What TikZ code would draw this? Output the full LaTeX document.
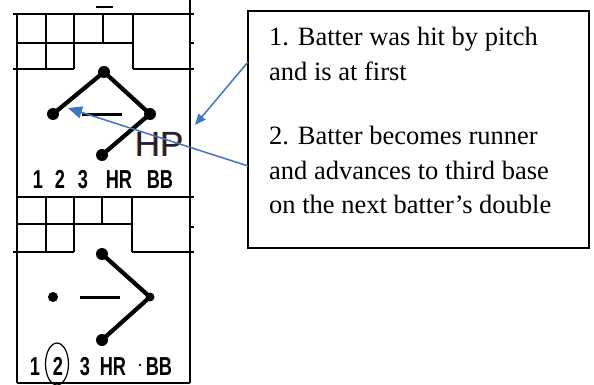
\documentclass[tikz,border=0pt]{standalone}
\usepackage{fontspec}
\setmainfont{Liberation Serif}
\newfontfamily\arial{Liberation Sans}
\usetikzlibrary{arrows.meta}
\definecolor{callblue}{HTML}{4472C4}
\definecolor{hpink}{HTML}{1C2238}
\definecolor{hpshadow}{HTML}{D9892E}
\begin{document}
\begin{tikzpicture}[x=1pt,y=-1pt,
  grid/.style={line width=2.5pt,black},
  thin grid/.style={line width=2pt,black},
  path line/.style={line width=4.2pt,black,line cap=round,line join=round},
  base dot/.style={fill=black},
  out dash/.style={line width=3pt,black},
  score/.style={inner sep=0pt,anchor=base,font=\arial\bfseries\fontsize{26}{26}\selectfont},
  note/.style={inner sep=0pt,anchor=base west,font=\fontsize{26.5}{26.5}\selectfont},
  pointer/.style={draw=callblue,line width=1.5pt,-{Triangle[length=14pt,width=12pt]}}]
\useasboundingbox (0,0) rectangle (594,385);
\fill[white] (0,0) rectangle (594,385);

% ---- outer frame of the score column
\draw[grid] (17,14) -- (17,383);
\draw[grid] (190,0) -- (190,383);
\draw[grid] (17,383) -- (190,383);
\draw[thin grid] (96,7) -- (113,7);

% ---- upper score box: count cells
\draw[grid] (13,14) -- (194,14);
\draw[thin grid] (17,43) -- (133,43);
\draw[thin grid] (190,43) -- (194,43);
\draw[grid] (13,69) -- (74,69);
\draw[grid] (133,69) -- (194,69);
\draw[thin grid] (46,14) -- (46,69);
\draw[thin grid] (74,14) -- (74,69);
\draw[thin grid] (103,14) -- (103,43);
\draw[thin grid] (133,14) -- (133,69);

% ---- upper diamond: hit by pitch, at first
\coordinate (uhome) at (102,155);
\coordinate (ufirst) at (150,114);
\coordinate (usecond) at (104,72);
\coordinate (uthird) at (53,114);
\draw[path line] (uthird) -- (usecond) -- (ufirst) -- (uhome);
\foreach \p in {uhome,ufirst,usecond,uthird} \fill[base dot] (\p) circle (6);
\draw[out dash] (82,115) -- (122,115);
\node[inner sep=0pt,anchor=base west,font=\arial\fontsize{35}{35}\selectfont,text=hpshadow] (hpsh) at (134,157) {HP};
\node[inner sep=0pt,anchor=base west,font=\arial\fontsize{35}{35}\selectfont,text=hpink] (hp) at (135,157) {HP};

\node[score] (u1) at (38,188) {\scalebox{0.7}[1]{1}};
\node[score] (u2) at (60,188) {\scalebox{0.7}[1]{2}};
\node[score] (u3) at (83,188) {\scalebox{0.7}[1]{3}};
\node[score] (uhr) at (119,188) {\scalebox{0.7}[1]{HR}};
\node[score] (ubb) at (160,188) {\scalebox{0.7}[1]{BB}};

% ---- lower score box: count cells
\draw[grid] (17,197) -- (194,197);
\draw[thin grid] (17,224) -- (132,224);
\draw[thin grid] (190,227) -- (194,227);
\draw[grid] (13,252) -- (74,252);
\draw[grid] (132,252) -- (194,252);
\draw[thin grid] (46,197) -- (46,252);
\draw[thin grid] (74,197) -- (74,252);
\draw[thin grid] (102,197) -- (102,224);
\draw[thin grid] (132,197) -- (132,252);

% ---- lower diamond: advanced to third on a double
\coordinate (lhome) at (102,340);
\coordinate (lfirst) at (150,297);
\coordinate (lsecond) at (102,254);
\coordinate (lthird) at (53,297);
\draw[path line] (lsecond) -- (lfirst) -- (lhome);
\fill[base dot] (lsecond) circle (6);
\fill[base dot] (lhome) circle (6);
\fill[base dot] (lfirst) circle (4.5);
\fill[base dot] (lthird) circle (5);
\draw[out dash] (80,297) -- (120,297);

\node[score] (l1) at (35,375) {\scalebox{0.7}[1]{1}};
\node[score] (l2) at (58,375) {\scalebox{0.7}[1]{2}};
\node[score] (l3) at (85,375) {\scalebox{0.7}[1]{3}};
\node[score] (lhr) at (113,375) {\scalebox{0.7}[1]{HR}};
\node[score] (lbb) at (159,375) {\scalebox{0.7}[1]{BB}};
\fill (140,365) circle (1.4);
\draw[line width=1.2pt] (57,364) ellipse (11.5 and 21);

% ---- explanation box
\draw[line width=1.8pt] (248,11) rectangle (589,248);
\node[note] (n1a) at (269,46) {1. Batter was hit by pitch};
\node[note] (n1b) at (269,81) {and is at first};
\node[note] (n2a) at (269,145) {2. Batter becomes runner};
\node[note] (n2b) at (269,179) {and advances to third base};
\node[note] (n2c) at (269,213) {on the next batter’s double};

% ---- pointers from the box to the score marks
\coordinate (p1) at (248,62);
\coordinate (t1) at (195,125);
\coordinate (p2) at (248,166);
\coordinate (t2) at (68,108);
\draw[pointer,-{Triangle[length=11pt,width=9pt]}] (p1) -- (t1);
\draw[pointer] (p2) -- (t2);
\end{tikzpicture}
\end{document}
